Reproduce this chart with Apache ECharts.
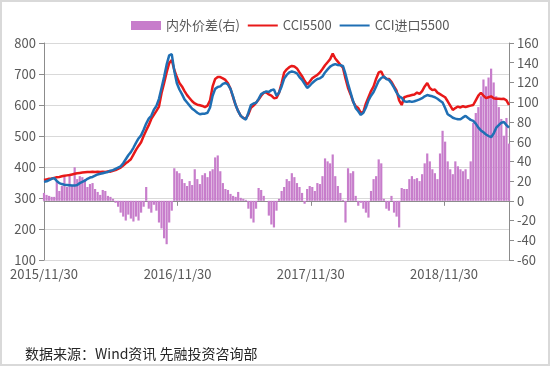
<!DOCTYPE html>
<html>
<head>
<meta charset="utf-8">
<script src="https://cdn.jsdelivr.net/npm/echarts@6/dist/echarts.min.js"></script>
<style>
  html, body { margin: 0; padding: 0; background: #fff; }
  #chart { width: 550px; height: 366px; box-sizing: border-box; border: 2px solid #d9d9d9; }
</style>
</head>
<body>
<div id="chart"></div>
<script>
// 周度数据，起点 2015/11/30
var startDate = [2015, 10, 30];
var stepDays = 7;
var tickDates = ['2015/11/30', '2016/11/30', '2017/11/30', '2018/11/30'];

// CCI5500 (左轴)
var cci5500 = [
  358, 360, 362, 363, 365, 367, 368, 370, 372, 373,
  374, 376, 378, 380, 381, 382, 383, 384, 384, 385,
  384, 385, 384, 385, 384, 386, 385, 388, 390, 394,
  398, 405, 412, 418, 425, 440, 455, 468, 480, 500,
  518, 535, 555, 568, 581, 595, 638, 670, 705, 735,
  745, 713, 690, 671, 660, 645, 632, 622, 612, 605,
  601, 599, 597, 593, 598, 615, 660, 684, 690, 690,
  686, 681, 670, 652, 625, 600, 580, 565, 558, 556,
  570, 591, 598, 607, 618, 630, 640, 640, 634, 630,
  622, 623, 640, 670, 705, 715, 722, 726, 724, 718,
  705, 693, 678, 666, 675, 686, 692, 697, 705, 716,
  728, 738, 748, 766, 750, 740, 730, 720, 686, 655,
  634, 610, 596, 590, 575, 578, 605, 625, 645, 660,
  685, 705, 708, 690, 685, 684, 675, 660, 646, 615,
  600, 625, 628, 630, 632, 634, 640, 636, 645, 660,
  671, 655, 648, 650, 640, 635, 630, 625, 612, 598,
  584, 590, 595, 592, 596, 593, 596, 598, 600, 615,
  630, 639, 630, 622, 625, 628, 622, 620, 620, 619,
  620, 615, 600
];

// CCI进口5500 (左轴)
var cciImport5500 = [
  352, 354, 358, 362, 364, 355, 348, 345, 343, 342,
  341, 340, 340, 342, 348, 352, 356, 362, 366, 368,
  372, 376, 378, 380, 382, 384, 388, 390, 394, 398,
  402, 412, 425, 438, 448, 462, 478, 492, 502, 520,
  540, 556, 565, 585, 597, 620, 655, 690, 730, 760,
  764, 710, 670, 650, 635, 618, 608, 598, 588, 582,
  575, 570, 572, 572, 575, 592, 630, 652, 658, 660,
  668, 671, 666, 652, 628, 600, 580, 565, 558, 553,
  575, 600, 605, 607, 620, 635, 640, 644, 642, 648,
  650, 630, 640, 660, 685, 697, 705, 708, 706, 702,
  690, 681, 668, 655, 662, 671, 678, 684, 686, 692,
  705, 715, 724, 729, 732, 729, 728, 726, 700, 668,
  640, 612, 590, 580, 568, 575, 592, 615, 630, 642,
  660, 678, 687, 692, 684, 681, 670, 656, 640, 628,
  623, 612, 610, 612, 610, 612, 615, 618, 622, 628,
  632, 630, 628, 625, 620, 614, 608, 590, 570, 565,
  559, 556, 554, 554, 560, 565, 558, 552, 549, 540,
  527, 518, 512, 505, 500, 496, 508, 527, 535, 543,
  545, 535, 527
];

// 内外价差 (右轴)
var priceSpread = [
  8, 6, 5, 4, 4, 20, 10, 15, 25, 14,
  26, 15, 34, 22, 25, 24, 22, 14, 17, 18,
  12, 9, 6, 11, 10, 5, 4, 2, -2, -6,
  -12, -16, -20, -14, -18, -21, -16, -20, -12, -6,
  14, -8, -12, -4, -10, -22, -28, -38, -44, -22,
  -10, 33, 30, 28, 22, 18, 15, 20, 16, 32,
  22, 17, 26, 28, 24, 30, 32, 44, 46, 30,
  18, 12, 11, 7, 5, 4, 9, 3, 2, 1,
  -8, -18, -22, -8, 13, 11, 5, 0, -15, -24,
  -27, -10, 2, 10, 14, 22, 20, 28, 24, 18,
  14, 8, -3, 12, 15, 14, 10, 18, 17, 25,
  43, 40, 38, 47, 25, 15, 8, 1, -22, 33,
  28, 30, 5, -5, -2, -8, -12, -17, 10, 22,
  25, 42, 38, 2, -8, -10, 5, -12, -16, -27,
  13, 12, 12, 22, 25, 22, 23, 20, 27, 38,
  48, 40, 32, 28, 22, 48, 71, 60, 40, 32,
  27, 40, 35, 32, 30, 32, 22, 40, 79, 89,
  95, 106, 123, 116, 125, 134, 120, 106, 95, 83,
  66, 84, 58
];

var seriesNames = ['内外价差(右)', 'CCI5500', 'CCI进口5500'];

function parseDay(s) {
  var p = s.split('/');
  return new Date(+p[0], +p[1] - 1, +p[2]).getTime();
}
function fmtDay(t) {
  var d = new Date(t);
  return d.getFullYear() + '/' + (d.getMonth() + 1) + '/' + d.getDate();
}

var dates = [];
for (var i = 0; i < cci5500.length; i++) {
  dates.push(new Date(startDate[0], startDate[1], startDate[2] + i * stepDays).getTime());
}
function pair(arr) {
  return arr.map(function (v, i) { return [dates[i], v]; });
}
var tickValues = tickDates.map(parseDay);

var font = 'Noto Sans CJK SC';
var txtColor = '#595959';
var axisColor = '#8c8c8c';

var myChart = echarts.init(document.getElementById('chart'));
var option = {
  animation: false,
  textStyle: { fontFamily: font },
  title: {
    text: '数据来源：Wind资讯 先融投资咨询部',
    left: 18,
    top: 340,
    textStyle: { fontSize: 14, fontWeight: 'normal', color: '#262626', fontFamily: font }
  },
  legend: {
    data: [
      { name: seriesNames[0], icon: 'rect' },
      { name: seriesNames[1], itemStyle: { opacity: 0 } },
      { name: seriesNames[2], itemStyle: { opacity: 0 } }
    ],
    left: 124,
    top: 12,
    itemWidth: 30,
    itemHeight: 9,
    itemGap: 7,
    textStyle: { fontSize: 13, color: txtColor, fontFamily: font }
  },
  grid: { left: 42, right: 39, top: 41, bottom: 104 },
  xAxis: {
    type: 'value',
    min: dates[0],
    max: dates[dates.length - 1],
    splitLine: { show: false },
    axisLine: { lineStyle: { color: axisColor, width: 1 } },
    axisTick: { show: true, customValues: tickValues, length: 5, lineStyle: { color: axisColor } },
    axisLabel: {
      customValues: tickValues,
      formatter: function (v) { return fmtDay(v); },
      fontSize: 13,
      color: txtColor,
      margin: 8,
      hideOverlap: false
    }
  },
  yAxis: [
    {
      type: 'value',
      min: 100,
      max: 800,
      interval: 100,
      axisLine: { show: true, lineStyle: { color: axisColor } },
      axisTick: { show: true, length: 5, lineStyle: { color: axisColor } },
      axisLabel: { fontSize: 13, color: txtColor, margin: 8 },
      splitLine: { show: true, lineStyle: { color: '#d9d9d9', width: 1 } }
    },
    {
      type: 'value',
      min: -60,
      max: 160,
      interval: 20,
      axisLine: { show: true, lineStyle: { color: axisColor } },
      axisTick: { show: true, length: 5, lineStyle: { color: axisColor } },
      axisLabel: { fontSize: 13, color: txtColor, margin: 8 },
      splitLine: { show: false }
    }
  ],
  series: [
    {
      name: seriesNames[0],
      type: 'bar',
      yAxisIndex: 1,
      barWidth: 2.2,
      data: pair(priceSpread),
      itemStyle: { color: '#c77dcb' }
    },
    {
      name: seriesNames[1],
      type: 'line',
      yAxisIndex: 0,
      data: pair(cci5500),
      symbol: 'none',
      lineStyle: { color: '#e81919', width: 2.5 },
      itemStyle: { color: '#e81919' },
      z: 3
    },
    {
      name: seriesNames[2],
      type: 'line',
      yAxisIndex: 0,
      data: pair(cciImport5500),
      symbol: 'none',
      lineStyle: { color: '#1f6fb4', width: 2.5 },
      itemStyle: { color: '#1f6fb4' },
      z: 4
    }
  ]
};
myChart.setOption(option);
</script>
</body>
</html>
